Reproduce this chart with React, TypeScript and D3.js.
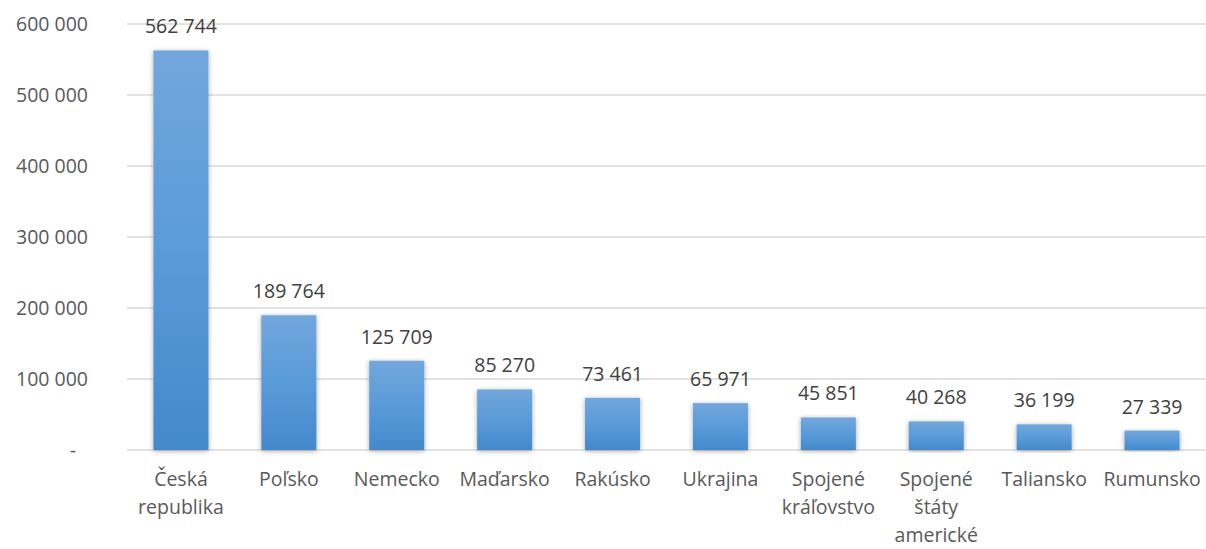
import { useEffect, useRef } from 'react';
import * as d3 from 'd3';

const countries = [
  'Česká republika',
  'Poľsko',
  'Nemecko',
  'Maďarsko',
  'Rakúsko',
  'Ukrajina',
  'Spojené kráľovstvo',
  'Spojené štáty americké',
  'Taliansko',
  'Rumunsko'
];
const visitors = [562744, 189764, 125709, 85270, 73461, 65971, 45851, 40268, 36199, 27339];
const yTicks = [0, 100000, 200000, 300000, 400000, 500000, 600000];

// label lines as they wrap in the original
const labelLines: string[][] = [
  ['Česká', 'republika'],
  ['Poľsko'],
  ['Nemecko'],
  ['Maďarsko'],
  ['Rakúsko'],
  ['Ukrajina'],
  ['Spojené', 'kráľovstvo'],
  ['Spojené', 'štáty', 'americké'],
  ['Taliansko'],
  ['Rumunsko']
];

const fmt = (v: number) => (v === 0 ? '-' : d3.format(',')(v).replace(/,/g, ' '));

export default function App() {
  const svgRef = useRef<SVGSVGElement>(null);

  useEffect(() => {
    if (!svgRef.current) return;
    const width = 1206;
    const height = 549;
    const svg = d3.select(svgRef.current);
    svg.selectAll('*').remove();
    svg.attr('width', width).attr('height', height);

    const margin = { top: 24, right: 0, bottom: 99, left: 127 };
    const innerWidth = width - margin.left - margin.right;
    const innerHeight = height - margin.top - margin.bottom;
    const font = "'Open Sans', 'Noto Sans', sans-serif";
    const fontSize = '19.5px';

    const defs = svg.append('defs');
    const grad = defs.append('linearGradient')
      .attr('id', 'barGrad')
      .attr('x1', 0).attr('y1', 0).attr('x2', 0).attr('y2', 1);
    grad.append('stop').attr('offset', '0%').attr('stop-color', '#72a7dc');
    grad.append('stop').attr('offset', '50%').attr('stop-color', '#5a9bd9');
    grad.append('stop').attr('offset', '100%').attr('stop-color', '#4489cb');

    const filter = defs.append('filter')
      .attr('id', 'shadow')
      .attr('x', '-30%').attr('y', '-10%').attr('width', '160%').attr('height', '120%');
    filter.append('feDropShadow')
      .attr('dx', 0).attr('dy', 1)
      .attr('stdDeviation', 2.5)
      .attr('flood-color', '#000')
      .attr('flood-opacity', 0.35);

    const g = svg.append('g').attr('transform', `translate(${margin.left},${margin.top})`);

    const x = d3.scaleBand<string>()
      .domain(countries)
      .range([0, innerWidth])
      .paddingInner(0.49)
      .paddingOuter(0.245);

    const y = d3.scaleLinear().domain([0, 600000]).range([innerHeight, 0]);

    // Grid lines
    g.append('g')
      .selectAll('line')
      .data(yTicks)
      .enter().append('line')
      .attr('x1', 0)
      .attr('x2', innerWidth)
      .attr('y1', d => y(d))
      .attr('y2', d => y(d))
      .attr('stroke', '#d9d9d9')
      .attr('stroke-width', 1.3);

    // Y tick labels
    g.append('g')
      .selectAll('text')
      .data(yTicks)
      .enter().append('text')
      .attr('x', d => (d === 0 ? -51 : -39))
      .attr('y', d => y(d))
      .attr('dy', '0.35em')
      .attr('text-anchor', 'end')
      .style('font-family', font)
      .style('font-size', fontSize)
      .style('fill', '#595959')
      .text(d => fmt(d));

    // Bars
    g.append('g')
      .selectAll('rect')
      .data(visitors)
      .enter().append('rect')
      .attr('x', (_, i) => x(countries[i]) as number)
      .attr('y', d => y(d))
      .attr('width', x.bandwidth())
      .attr('height', d => innerHeight - y(d))
      .attr('fill', 'url(#barGrad)')
      .attr('filter', 'url(#shadow)');

    // Value labels
    g.append('g')
      .selectAll('text')
      .data(visitors)
      .enter().append('text')
      .attr('x', (_, i) => (x(countries[i]) as number) + x.bandwidth() / 2)
      .attr('y', d => y(d) - 17)
      .attr('text-anchor', 'middle')
      .style('font-family', font)
      .style('font-size', fontSize)
      .style('fill', '#404040')
      .text(d => fmt(d));

    // Category labels
    const cat = g.append('g');
    countries.forEach((c, i) => {
      const cx = (x(c) as number) + x.bandwidth() / 2;
      const t = cat.append('text')
        .attr('text-anchor', 'middle')
        .attr('x', cx)
        .attr('y', innerHeight + 36)
        .style('font-family', font)
        .style('font-size', fontSize)
        .style('fill', '#595959');
      labelLines[i].forEach((line, j) => {
        t.append('tspan')
          .attr('x', cx)
          .attr('dy', j === 0 ? 0 : 28)
          .text(line);
      });
    });
  }, []);

  return (
    <div style={{ position: 'absolute', left: 0, top: 0, background: '#fff' }}>
      <svg ref={svgRef}></svg>
    </div>
  );
}
